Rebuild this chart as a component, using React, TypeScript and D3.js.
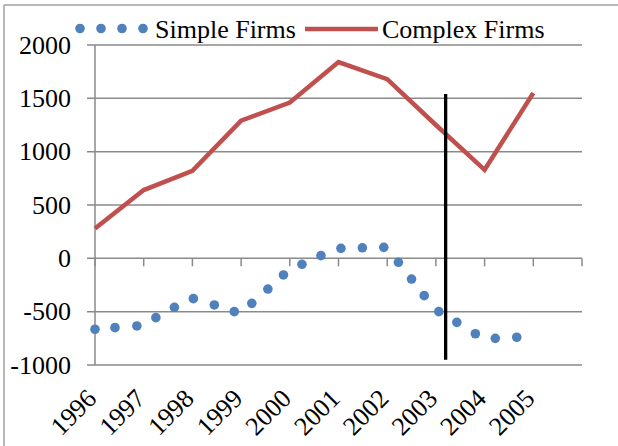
import React from "react";
import * as d3 from "d3";

const years = [1996, 1997, 1998, 1999, 2000, 2001, 2002, 2003, 2004, 2005];
const complexFirms = [280, 640, 820, 1290, 1460, 1840, 1680, 1250, 830, 1550];
const simpleX = [1996.0, 1996.41, 1996.86, 1997.25, 1997.63, 1998.02, 1998.45, 1998.86, 1999.22, 1999.55, 1999.87, 2000.25, 2000.64, 2001.05, 2001.49, 2001.93, 2002.23, 2002.5, 2002.76, 2003.06, 2003.43, 2003.81, 2004.22, 2004.66];
const simpleFirms = [-665, -650, -634, -556, -459, -378, -437, -500, -422, -288, -156, -56, 25, 94, 99, 103, -37, -194, -350, -500, -600, -707, -750, -740];
const yTicks = [-1000, -500, 0, 500, 1000, 1500, 2000];
const markerX = 2003.2;
const markerY = [-950, 1540];

const W = 618;
const H = 446;
const FONT = "'Liberation Serif', 'Times New Roman', serif";
const BLUE = "#4F81BD";
const RED = "#C0504D";
const GRID = "#8a8a8a";

export default function App() {
  const x = d3.scaleLinear().domain([1996, 2006]).range([95, 582]);
  const y = d3.scaleLinear().domain([-1000, 2000]).range([365, 45]);
  const line = d3
    .line<number>()
    .x((_, i) => x(years[i]))
    .y((d) => y(d));

  return (
    <svg
      width={W}
      height={H}
      style={{ position: "absolute", left: 0, top: 0, background: "#fff" }}
      fontFamily={FONT}
    >
      {/* outer frame */}
      <line x1={4} y1={5} x2={W} y2={5} stroke="#a0a0a0" strokeWidth={1.5} />
      <line x1={4} y1={5} x2={4} y2={H} stroke="#a0a0a0" strokeWidth={1.5} />

      {/* gridlines and y ticks */}
      {yTicks.map((t) => (
        <g key={t}>
          <line x1={87} x2={x(2006)} y1={y(t)} y2={y(t)} stroke={GRID} strokeWidth={1.5} />
          <text x={71} y={y(t)} dy="0.33em" textAnchor="end" fontSize={26} fill="#000">
            {t}
          </text>
        </g>
      ))}
      {/* y axis */}
      <line x1={x(1996)} x2={x(1996)} y1={y(2000)} y2={y(-1000)} stroke={GRID} strokeWidth={1.5} />
      {/* x ticks at zero line */}
      {d3.range(1996, 2007).map((t) => (
        <line key={t} x1={x(t)} x2={x(t)} y1={y(0)} y2={y(0) + 8} stroke={GRID} strokeWidth={1.5} />
      ))}

      {/* x labels */}
      {years.map((yr) => (
        <text
          key={yr}
          transform={`translate(${x(yr) + 3},${400}) rotate(-45)`}
          textAnchor="end"
          fontSize={26}
          fill="#000"
        >
          {yr}
        </text>
      ))}

      {/* complex firms line */}
      <path d={line(complexFirms) || ""} fill="none" stroke={RED} strokeWidth={4.5} strokeLinejoin="miter" />

      {/* simple firms dots */}
      {simpleFirms.map((v, i) => (
        <circle key={i} cx={x(simpleX[i])} cy={y(v)} r={4.8} fill={BLUE} />
      ))}

      {/* vertical marker */}
      <line
        x1={x(markerX)}
        x2={x(markerX)}
        y1={y(markerY[0])}
        y2={y(markerY[1])}
        stroke="#000"
        strokeWidth={3.3}
      />

      {/* legend */}
      {[80, 101, 122, 143].map((cx) => (
        <circle key={cx} cx={cx} cy={28.5} r={4.8} fill={BLUE} />
      ))}
      <text x={155} y={37.5} fontSize={26} fill="#000">
        Simple Firms
      </text>
      <line x1={305} x2={378} y1={29} y2={29} stroke={RED} strokeWidth={4.5} />
      <text x={382} y={37.5} fontSize={26} fill="#000">
        Complex Firms
      </text>
    </svg>
  );
}
